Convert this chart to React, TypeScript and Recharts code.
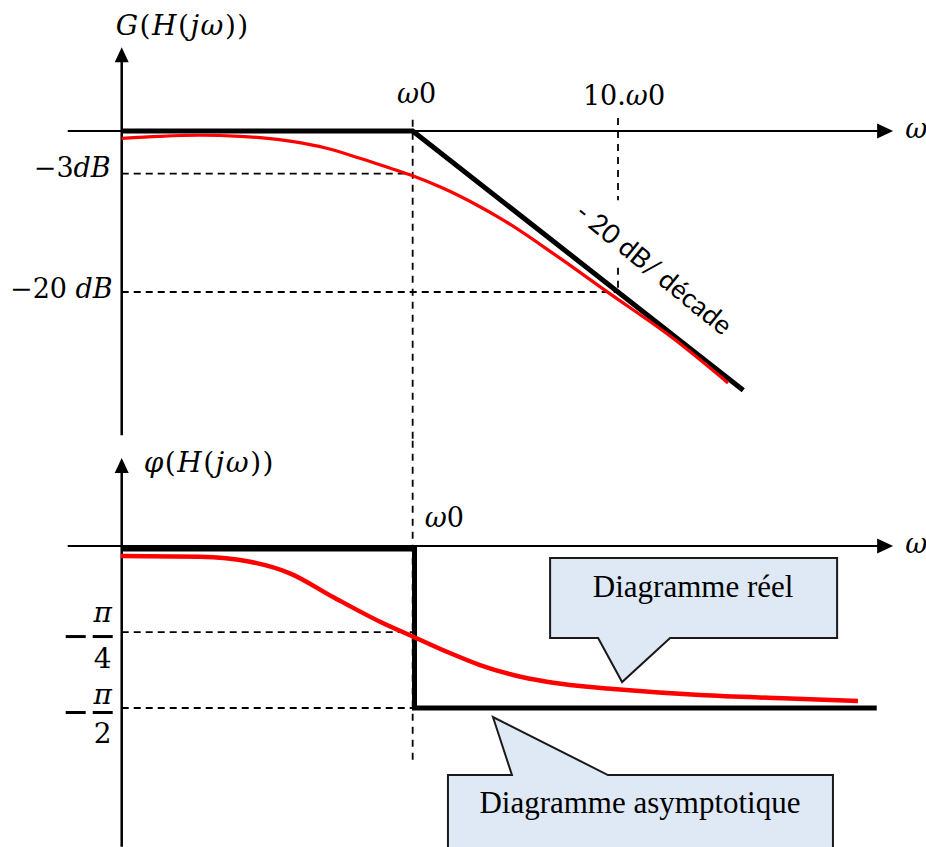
import React from "react";
import { ComposedChart, Line, XAxis, YAxis, ReferenceLine, ReferenceDot } from "recharts";

// x axis is log10(ω / ω0): ω0 -> 0, 10.ω0 -> 1
const X_DOMAIN = [-2, 2.5];
const MAG_DOMAIN = [-88.94, 16.27]; // dB
const PH_DOMAIN = [-167.2, 303.3]; // degrees

const Y_AXIS_U = -1.417;
const X_AXIS_START = -1.68;
const X_AXIS_END = 2.34;
const MAG_AXIS_TOP = 10.4;
const MAG_AXIS_BOTTOM = -37.8;
const PH_AXIS_TOP = 48.9;
const PH_AXIS_BOTTOM = -167;

const W0 = 0;
const W10 = 1;
const DB3_LEVEL = -5.3;
const DB20_LEVEL = -20;
const PI4_LEVEL = -47.8;
const PI2_LEVEL = -90;

const magAsym = [
  { u: -1.417, v: 0 },
  { u: 0, v: 0 },
  { u: 1.61, v: -32.2 },
];
const magReal = [
  { u: -1.417, v: -0.91 },
  { u: -1.231, v: -0.66 },
  { u: -1.036, v: -0.53 },
  { u: -0.841, v: -0.66 },
  { u: -0.743, v: -0.83 },
  { u: -0.581, v: -1.33 },
  { u: -0.419, v: -2.15 },
  { u: -0.257, v: -3.39 },
  { u: -0.094, v: -4.76 },
  { u: 0.003, v: -5.59 },
  { u: 0.149, v: -7.12 },
  { u: 0.312, v: -9.19 },
  { u: 0.425, v: -10.81 },
  { u: 0.717, v: -15.8 },
  { u: 0.946, v: -19.96 },
  { u: 1.268, v: -25.75 },
  { u: 1.536, v: -31.3 },
];
const phAsym = [
  { u: -1.42, v: -1.7 },
  { u: 0.009, v: -1.7 },
  { u: 0.009, v: -90 },
  { u: 2.26, v: -90 },
];
const phReal = [
  { u: -1.421, v: -5.56 },
  { u: -1.036, v: -5.94 },
  { u: -0.792, v: -8.72 },
  { u: -0.598, v: -15.17 },
  { u: -0.388, v: -28.33 },
  { u: -0.159, v: -42.06 },
  { u: 0.003, v: -50.39 },
  { u: 0.166, v: -58.72 },
  { u: 0.328, v: -66.11 },
  { u: 0.49, v: -71.67 },
  { u: 0.653, v: -75.39 },
  { u: 0.815, v: -77.78 },
  { u: 0.977, v: -79.44 },
  { u: 1.399, v: -82.78 },
  { u: 1.803, v: -84.61 },
  { u: 2.169, v: -86.11 },
];

const MATH = "'DejaVu Serif', serif";
const TIMES = "'Liberation Serif', 'Times New Roman', serif";
const SANS = "Lato, 'Noto Sans', sans-serif";
const CALLOUT_FILL = "#dee9f5";

type Part = [string, boolean];

const mathText = (parts: Part[]) =>
  parts.map(([s, it], i) => (
    <tspan key={i} fontStyle={it ? "italic" : "normal"}>
      {s}
    </tspan>
  ));

// text anchored on a data point, offset in pixels
const label = (
  key: string,
  axis: string,
  u: number,
  v: number,
  dx: number,
  dy: number,
  parts: Part[],
  anchor: "start" | "middle" | "end" = "start",
  size = 27,
  spacing = 0
) => (
  <ReferenceDot
    key={key}
    yAxisId={axis}
    x={u}
    y={v}
    r={0}
    ifOverflow="visible"
    shape={(p: any) => (
      <text
        x={p.cx + dx}
        y={p.cy + dy}
        textAnchor={anchor}
        fontFamily={MATH}
        fontSize={size}
        letterSpacing={spacing}
        fill="#000"
      >
        {mathText(parts)}
      </text>
    )}
  />
);

const arrow = (key: string, axis: string, u: number, v: number, dir: "up" | "right") => (
  <ReferenceDot
    key={key}
    yAxisId={axis}
    x={u}
    y={v}
    r={0}
    ifOverflow="visible"
    shape={(p: any) => {
      const { cx, cy } = p;
      const pts =
        dir === "up"
          ? `${cx},${cy} ${cx - 7},${cy + 15} ${cx + 7},${cy + 15}`
          : `${cx},${cy} ${cx - 16},${cy - 7.5} ${cx - 16},${cy + 7.5}`;
      return <polygon points={pts} fill="#000" />;
    }}
  />
);

const fraction = (key: string, v: number, den: string, gapTop: number, gapBottom: number) => (
  <ReferenceDot
    key={key}
    yAxisId="ph"
    x={Y_AXIS_U}
    y={v}
    r={0}
    ifOverflow="visible"
    shape={(p: any) => {
      const { cx, cy } = p;
      const by = cy + 4.5;
      return (
        <g fontFamily={MATH} fontSize={28} fill="#000">
          <line x1={cx - 56} x2={cx - 36} y1={by} y2={by} stroke="#000" strokeWidth={3} />
          <line x1={cx - 29} x2={cx - 9} y1={by} y2={by} stroke="#000" strokeWidth={3} />
          <text x={cx - 19} y={by - gapTop} textAnchor="middle" fontStyle="italic">
            π
          </text>
          <text x={cx - 19} y={by + gapBottom} textAnchor="middle">
            {den}
          </text>
        </g>
      );
    }}
  />
);

const dash = { stroke: "#000", strokeWidth: 1.8, strokeDasharray: "7 5" };
const vdash = "7 6";
const axisLine = { stroke: "#000", strokeWidth: 2.5 };

export default function App() {
  return (
    <div style={{ position: "absolute", left: 0, top: 0, width: 926, height: 847, background: "#fff" }}>
      <ComposedChart width={926} height={847} margin={{ top: 0, right: 0, bottom: 0, left: 2 }}>
        <XAxis dataKey="u" type="number" domain={X_DOMAIN} allowDataOverflow hide />
        <YAxis yAxisId="mag" type="number" domain={MAG_DOMAIN} allowDataOverflow hide />
        <YAxis yAxisId="ph" type="number" domain={PH_DOMAIN} allowDataOverflow hide />

        {/* guides, magnitude */}
        <ReferenceLine yAxisId="mag" segment={[{ x: W0, y: 1.4 }, { x: W0, y: -38.5 }]} {...dash} strokeDasharray={vdash} />
        <ReferenceLine yAxisId="mag" segment={[{ x: W10, y: 1.6 }, { x: W10, y: -8.6 }]} {...dash} strokeDasharray={vdash} />
        <ReferenceLine yAxisId="mag" segment={[{ x: W10, y: -17 }, { x: W10, y: DB20_LEVEL }]} {...dash} strokeDasharray={vdash} />
        <ReferenceLine yAxisId="mag" segment={[{ x: Y_AXIS_U, y: DB3_LEVEL }, { x: W0 - 0.03, y: DB3_LEVEL }]} {...dash} />
        <ReferenceLine yAxisId="mag" segment={[{ x: Y_AXIS_U, y: DB20_LEVEL }, { x: W10, y: DB20_LEVEL }]} {...dash} />

        {/* guides, phase */}
        <ReferenceLine yAxisId="ph" segment={[{ x: W0, y: 58.5 }, { x: W0, y: -118.9 }]} {...dash} strokeDasharray={vdash} />
        <ReferenceLine yAxisId="ph" segment={[{ x: Y_AXIS_U, y: PI4_LEVEL }, { x: W0, y: PI4_LEVEL }]} {...dash} />
        <ReferenceLine yAxisId="ph" segment={[{ x: Y_AXIS_U, y: PI2_LEVEL }, { x: W0, y: PI2_LEVEL }]} {...dash} />

        {/* axes */}
        <ReferenceLine yAxisId="mag" segment={[{ x: X_AXIS_START, y: 0 }, { x: X_AXIS_END - 0.07, y: 0 }]} {...axisLine} strokeWidth={2} />
        <ReferenceLine yAxisId="mag" segment={[{ x: Y_AXIS_U, y: MAG_AXIS_TOP - 1.6 }, { x: Y_AXIS_U, y: MAG_AXIS_BOTTOM }]} {...axisLine} />
        <ReferenceLine yAxisId="ph" segment={[{ x: X_AXIS_START, y: 0 }, { x: X_AXIS_END - 0.07, y: 0 }]} {...axisLine} strokeWidth={2} />
        <ReferenceLine yAxisId="ph" segment={[{ x: Y_AXIS_U, y: PH_AXIS_TOP - 7 }, { x: Y_AXIS_U, y: PH_AXIS_BOTTOM }]} {...axisLine} />
        {arrow("a1", "mag", Y_AXIS_U, MAG_AXIS_TOP, "up")}
        {arrow("a2", "mag", X_AXIS_END, 0, "right")}
        {arrow("a3", "ph", Y_AXIS_U, PH_AXIS_TOP, "up")}
        {arrow("a4", "ph", X_AXIS_END, 0, "right")}

        {/* series */}
        <Line yAxisId="mag" data={magAsym} dataKey="v" type="linear" stroke="#000" strokeWidth={5} dot={false} isAnimationActive={false} />
        <Line yAxisId="mag" data={magReal} dataKey="v" type="monotone" stroke="#ff0000" strokeWidth={3.2} dot={false} isAnimationActive={false} />
        <Line yAxisId="ph" data={phAsym} dataKey="v" type="linear" stroke="#000" strokeWidth={5} dot={false} isAnimationActive={false} />
        <Line yAxisId="ph" data={phReal} dataKey="v" type="monotone" stroke="#ff0000" strokeWidth={4.5} dot={false} isAnimationActive={false} />

        {/* labels, magnitude */}
        {label("g", "mag", Y_AXIS_U, MAG_AXIS_TOP, -6, -12, [["G", true], ["(", false], ["H", true], ["(", false], ["jω", true], ["))", false]], "start", 28, 1.5)}
        {label("w0", "mag", W0, 1.4, 4, -17, [["ω", true], ["0", false]], "middle")}
        {label("w10", "mag", W10, 1.6, 6, -13, [["10.", false], ["ω", true], ["0", false]], "middle")}
        {label("wm", "mag", X_AXIS_END, 0, 12, 7, [["ω", true]])}
        {label("db3", "mag", Y_AXIS_U, DB3_LEVEL, -11, 3, [["−3", false], ["dB", true]], "end")}
        {label("db20", "mag", Y_AXIS_U, DB20_LEVEL, -9, 6, [["−20 ", false], ["dB", true]], "end")}
        <ReferenceDot
          yAxisId="mag"
          x={W10}
          y={DB20_LEVEL}
          r={0}
          ifOverflow="visible"
          shape={(p: any) => (
            <text
              x={p.cx + 30}
              y={p.cy - 16}
              transform={`rotate(39 ${p.cx + 30} ${p.cy - 16})`}
              textAnchor="middle"
              fontFamily={SANS}
              fontSize={27}
              fill="#000"
            >
              - 20 dB/ décade
            </text>
          )}
        />

        {/* labels, phase */}
        {label("phi", "ph", Y_AXIS_U, PH_AXIS_TOP, 22, 14, [["φ", true], ["(", false], ["H", true], ["(", false], ["jω", true], ["))", false]], "start", 28, 1.5)}
        {label("w0b", "ph", W0, 0, 12, -19, [["ω", true], ["0", false]])}
        {label("wp", "ph", X_AXIS_END, 0, 12, 7, [["ω", true]])}
        {fraction("f4", PI4_LEVEL, "4", 15, 31)}
        {fraction("f2", PI2_LEVEL, "2", 9, 30)}

        {/* callouts */}
        <ReferenceDot
          yAxisId="ph"
          x={1.02}
          y={-75.6}
          r={0}
          ifOverflow="visible"
          shape={(p: any) => {
            const { cx, cy } = p;
            const d = `M${cx - 72},${cy - 124} H${cx + 215} V${cy - 44} H${cx + 48} L${cx},${cy} L${cx - 24},${cy - 44} H${cx - 72} Z`;
            return (
              <g>
                <path d={d} fill={CALLOUT_FILL} stroke="#1a1a1a" strokeWidth={2} />
                <text x={cx + 71} y={cy - 85} textAnchor="middle" fontFamily={TIMES} fontSize={31} fill="#000">
                  Diagramme réel
                </text>
              </g>
            );
          }}
        />
        <ReferenceDot
          yAxisId="ph"
          x={0.391}
          y={-95}
          r={0}
          ifOverflow="visible"
          shape={(p: any) => {
            const { cx, cy } = p;
            const d = `M${cx},${cy} L${cx + 19},${cy + 58} H${cx - 45} V${cy + 160} H${cx + 340} V${cy + 58} H${cx + 115} Z`;
            return (
              <g>
                <path d={d} fill={CALLOUT_FILL} stroke="#1a1a1a" strokeWidth={2} />
                <text x={cx + 147} y={cy + 96} textAnchor="middle" fontFamily={TIMES} fontSize={31} fill="#000">
                  Diagramme asymptotique
                </text>
              </g>
            );
          }}
        />
      </ComposedChart>
    </div>
  );
}
